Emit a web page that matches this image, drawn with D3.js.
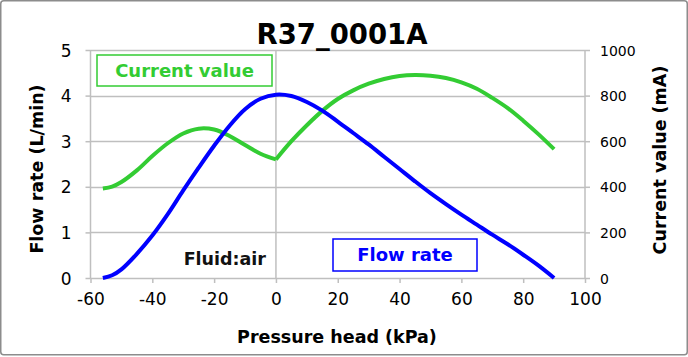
<!DOCTYPE html>
<html><head><meta charset="utf-8">
<script src="https://cdn.jsdelivr.net/npm/d3@7"></script>
<style>body{margin:0;background:#fff}svg{display:block}</style>
</head><body>
<svg id="c" width="688" height="357"></svg>
<script>
const pressure = [-56,-53,-50,-45,-40,-35,-30,-25,-20,-15,-10,-5,0,5,10,15,20,25,30,35,40,45,50,55,60,65,70,75,80,85,90];
const flowRate = [0,0.06,0.19,0.53,0.93,1.40,1.92,2.42,2.90,3.34,3.70,3.93,4.02,3.99,3.86,3.67,3.43,3.18,2.93,2.66,2.39,2.12,1.86,1.62,1.39,1.17,0.95,0.74,0.51,0.27,0];
const currentValue = [393,401,421,472,535,591,634,655,651,623,583,545,520,600,670,733,785,823,852,873,886,890,887,877,858,830,790,745,690,630,565];
const xTicks = [-60,-40,-20,0,20,40,60,80,100];
const yLeftTicks = [0,1,2,3,4,5];
const yRightTicks = [0,200,400,600,800,1000];

const svg = d3.select("#c");
const FONT = "'DejaVu Sans', Verdana, sans-serif";
const L = 90.5, R = 585, T = 50, B = 278;
const x = d3.scaleLinear().domain([-60,100]).range([L,R]);
const yL = d3.scaleLinear().domain([0,5]).range([B,T]);
const yR = d3.scaleLinear().domain([0,1000]).range([B,T]);

svg.append("rect").attr("x",0.75).attr("y",0.75).attr("width",686.5).attr("height",354)
  .attr("rx",3).attr("fill","#fff").attr("stroke","#8c8c8c").attr("stroke-width",1.5);

const gridC = "#bfbfbf";
svg.append("g").selectAll("line").data(yLeftTicks).join("line")
  .attr("x1",L).attr("x2",R).attr("y1",d=>Math.round(yL(d))+0.5).attr("y2",d=>Math.round(yL(d))+0.5)
  .attr("stroke",gridC).attr("stroke-width",1.5);
[x(0),L,R].forEach(xx=>{
  svg.append("line").attr("x1",xx).attr("x2",xx).attr("y1",T).attr("y2",B+0.5)
    .attr("stroke",gridC).attr("stroke-width",1.5);
});

const fmt = d=>String(d);
const gl = svg.append("g").attr("transform",`translate(${L},0)`)
  .call(d3.axisLeft(yL).tickValues(yLeftTicks).tickSize(5).tickPadding(14).tickFormat(fmt));
gl.select(".domain").remove();
gl.selectAll("line").attr("stroke",gridC).attr("stroke-width",1.5);
gl.selectAll("text").attr("font-family",FONT).attr("font-size",17).attr("fill","#000").attr("dy","0.36em");

const gr = svg.append("g").attr("transform",`translate(${R},0)`)
  .call(d3.axisRight(yR).tickValues(yRightTicks).tickSize(5).tickPadding(10).tickFormat(fmt));
gr.select(".domain").remove();
gr.selectAll("line").attr("stroke",gridC).attr("stroke-width",1.5);
gr.selectAll("text").attr("font-family",FONT).attr("font-size",14).attr("fill","#000").attr("dy","0.36em");

const gb = svg.append("g").attr("transform",`translate(0,${B})`)
  .call(d3.axisBottom(x).tickValues(xTicks).tickSize(5).tickPadding(10).tickFormat(fmt));
gb.select(".domain").remove();
gb.selectAll("line").attr("stroke",gridC).attr("stroke-width",1.5);
gb.selectAll("text").attr("font-family",FONT).attr("font-size",17).attr("fill","#000");

const flowData = pressure.map((p,i)=>({p,v:flowRate[i]}));
const curData = pressure.map((p,i)=>({p,v:currentValue[i]}));
const lineF = d3.line().x(d=>x(d.p)).y(d=>yL(d.v)).curve(d3.curveCatmullRom.alpha(0.5));
const lineC = d3.line().x(d=>x(d.p)).y(d=>yR(d.v)).curve(d3.curveCatmullRom.alpha(0.5));
const i0 = pressure.indexOf(0);
const green = "#33cc33", blue = "#0000ff";
[curData.slice(0,i0+1), curData.slice(i0)].forEach(seg=>{
  svg.append("path").attr("d",lineC(seg)).attr("fill","none").attr("stroke",green)
    .attr("stroke-width",4).attr("stroke-linejoin","round").attr("stroke-linecap","butt");
});
svg.append("path").attr("d",lineF(flowData)).attr("fill","none").attr("stroke",blue)
  .attr("stroke-width",4).attr("stroke-linejoin","round");

svg.append("text").attr("x",342).attr("y",44).attr("text-anchor","middle")
  .attr("font-family",FONT).attr("font-weight","bold").attr("font-size",27.5).attr("fill","#000").text("R37_0001A");

svg.append("text").attr("transform","translate(43,169) rotate(-90)").attr("text-anchor","middle")
  .attr("font-family",FONT).attr("font-weight","bold").attr("font-size",17.5).attr("fill","#000").text("Flow rate (L/min)");
svg.append("text").attr("transform","translate(666,160) rotate(-90)").attr("text-anchor","middle")
  .attr("font-family",FONT).attr("font-weight","bold").attr("font-size",17.5).attr("fill","#000").text("Current value (mA)");
svg.append("text").attr("x",337).attr("y",343).attr("text-anchor","middle")
  .attr("font-family",FONT).attr("font-weight","bold").attr("font-size",17.5).attr("fill","#000").text("Pressure head (kPa)");

function box(x0,y0,w,h,col,label){
  svg.append("rect").attr("x",x0).attr("y",y0).attr("width",w).attr("height",h)
    .attr("fill","#fff").attr("stroke",col).attr("stroke-width",1.5);
  svg.append("text").attr("x",x0+w/2).attr("y",y0+h/2).attr("dy","0.36em").attr("text-anchor","middle")
    .attr("font-family",FONT).attr("font-weight","bold").attr("font-size",18).attr("fill",col).text(label);
}
box(97,55,175,31,green,"Current value");
box(333,239,144,32,blue,"Flow rate");
svg.append("text").attr("x",266).attr("y",265).attr("text-anchor","end")
  .attr("font-family",FONT).attr("font-weight","bold").attr("font-size",17.5).attr("fill","#111").text("Fluid:air");
</script>
</body></html>
